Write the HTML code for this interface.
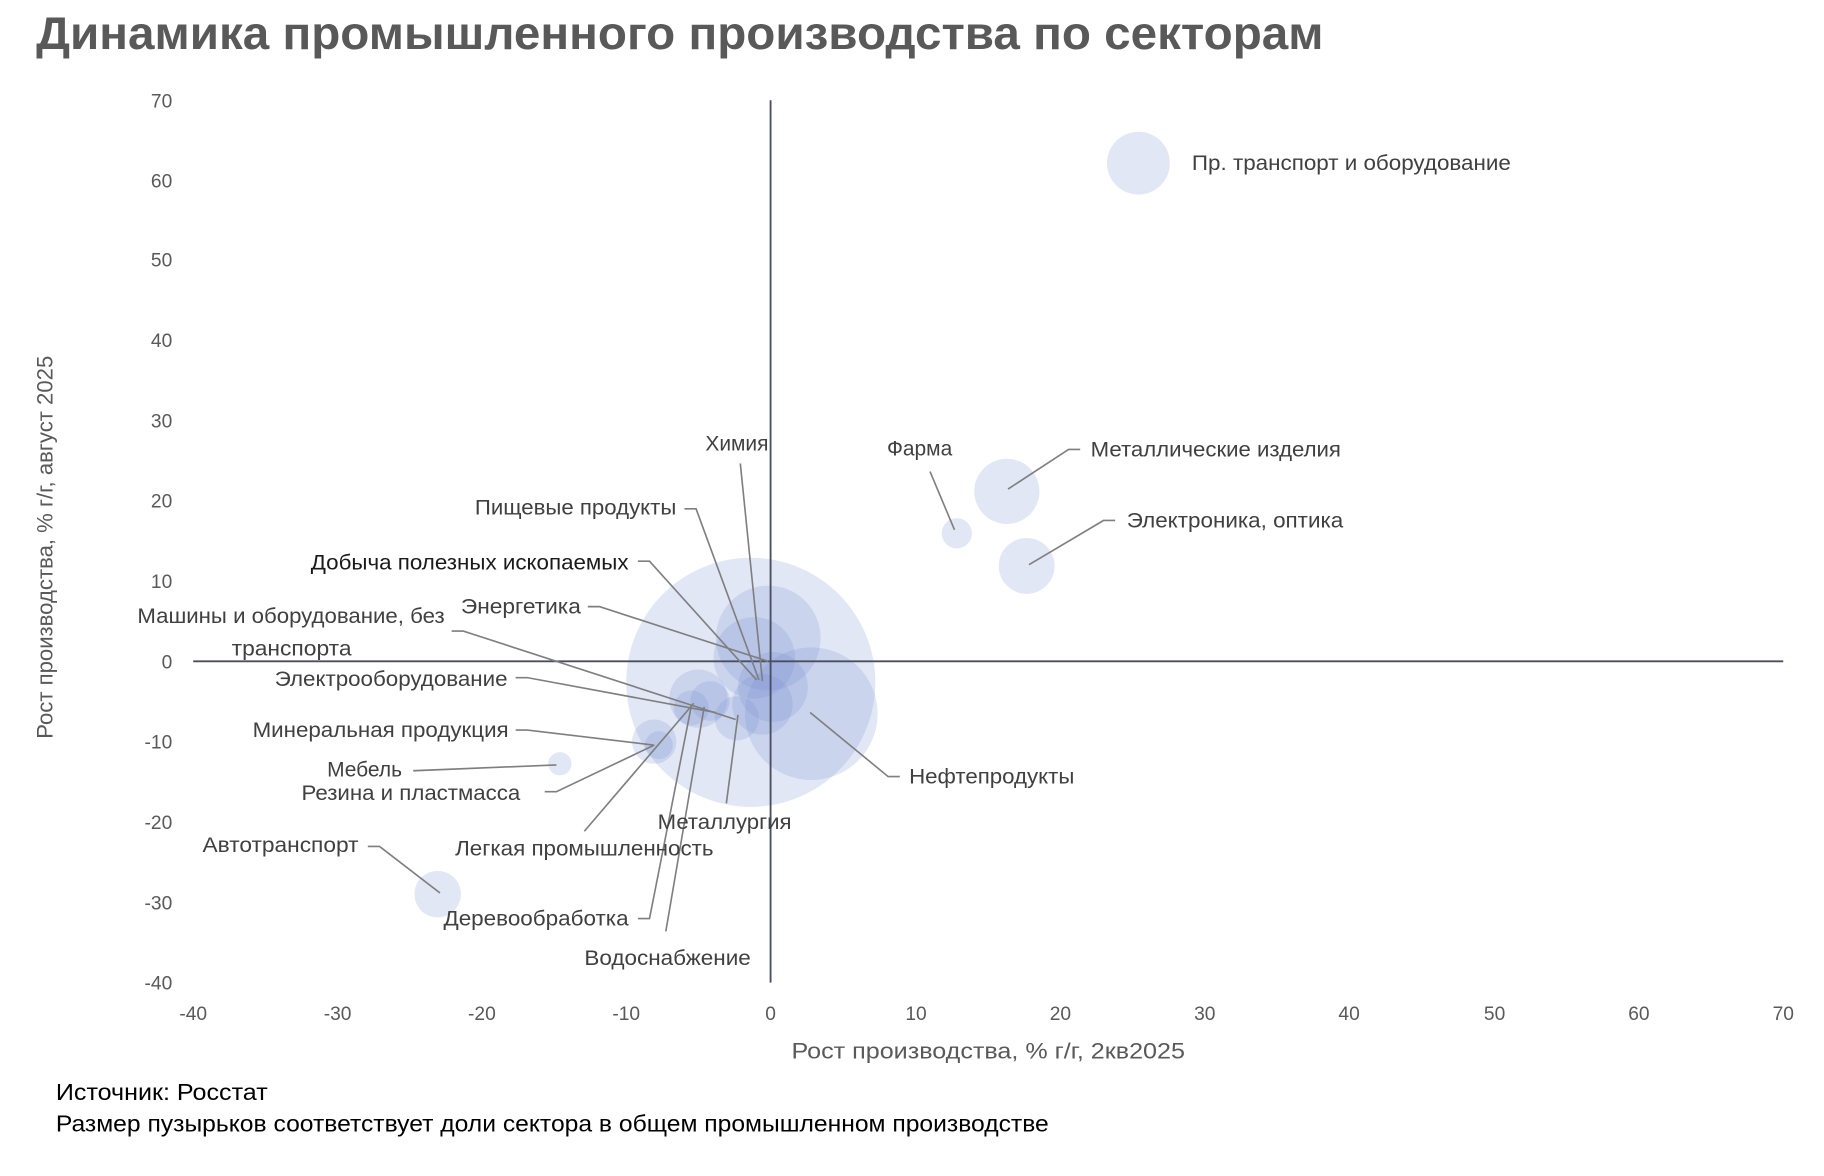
<!DOCTYPE html>
<html><head><meta charset="utf-8"><style>
html,body{margin:0;padding:0;background:#fff;}
svg{display:block;}
text{font-family:"Liberation Sans",sans-serif;}
</style></head><body>
<svg width="1824" height="1176" viewBox="0 0 1567 1010" xmlns="http://www.w3.org/2000/svg">
<text x="31" y="42" font-size="40" font-weight="bold" fill="#595959" textLength="1106" lengthAdjust="spacingAndGlyphs">Динамика промышленного производства по секторам</text>
<g fill="#7890d2" fill-opacity="0.21">
<circle cx="978" cy="140" r="27"/>
<circle cx="865" cy="422" r="28"/>
<circle cx="822" cy="458" r="13"/>
<circle cx="882" cy="486" r="24"/>
<circle cx="645" cy="586" r="107"/>
<circle cx="660" cy="548" r="45"/>
<circle cx="697" cy="613" r="57"/>
<circle cx="648" cy="565" r="35"/>
<circle cx="664" cy="590" r="30"/>
<circle cx="655" cy="605" r="26"/>
<circle cx="600" cy="600" r="25"/>
<circle cx="610" cy="602" r="17"/>
<circle cx="633" cy="617" r="19"/>
<circle cx="594" cy="608" r="15"/>
<circle cx="562" cy="637" r="19"/>
<circle cx="566" cy="640" r="12"/>
<circle cx="481" cy="656" r="10"/>
<circle cx="376" cy="768" r="20"/>
</g>
<g stroke="#4a4f60" stroke-width="1.6">
<line x1="662" y1="86" x2="662" y2="844"/>
<line x1="166" y1="568" x2="1532" y2="568"/>
</g>
<g font-size="16.5" fill="#595959" text-anchor="end">
<text x="148" y="92">70</text><text x="148" y="161">60</text><text x="148" y="229">50</text><text x="148" y="298">40</text><text x="148" y="367">30</text><text x="148" y="436">20</text><text x="148" y="505">10</text><text x="148" y="574">0</text><text x="148" y="643">-10</text><text x="148" y="712">-20</text><text x="148" y="781">-30</text><text x="148" y="850">-40</text>
</g>
<g font-size="16.5" fill="#595959" text-anchor="middle">
<text x="166" y="876">-40</text><text x="290" y="876">-30</text><text x="414" y="876">-20</text><text x="538" y="876">-10</text><text x="662" y="876">0</text><text x="787" y="876">10</text><text x="911" y="876">20</text><text x="1035" y="876">30</text><text x="1159" y="876">40</text><text x="1284" y="876">50</text><text x="1408" y="876">60</text><text x="1532" y="876">70</text>
</g>
<text x="680" y="909" font-size="19" fill="#595959" textLength="338" lengthAdjust="spacingAndGlyphs">Рост производства, % г/г,  2кв2025</text>
<text transform="translate(45,470) rotate(-90)" font-size="19" fill="#595959" text-anchor="middle">Рост производства, % г/г, август 2025</text>
<g stroke="#7f7f7f" stroke-width="1.4" fill="none">
<polyline points="928,386 918,386 866,420"/>
<polyline points="799,405 820,455"/>
<polyline points="958,447 948,447 884,485"/>
<polyline points="636,398 655,585"/>
<polyline points="588,437 598,437 652,584"/>
<polyline points="548,482 558,482 650,584"/>
<polyline points="505,521 515,521 660,568"/>
<polyline points="388,542 398,542 632,618"/>
<polyline points="443,582 453,582 615,612"/>
<polyline points="443,627 453,627 562,640"/>
<polyline points="355,662 478,657"/>
<polyline points="468,680 478,680 562,640"/>
<polyline points="502,714 596,604"/>
<polyline points="316,727 326,727 378,767"/>
<polyline points="548,789 558,789 594,606"/>
<polyline points="572,800 605,607"/>
<polyline points="624,690 634,614"/>
<polyline points="773,667 763,667 696,612"/>
</g>
<g font-size="18" fill="#404040">
<text x="1024" y="146" textLength="274" lengthAdjust="spacingAndGlyphs">Пр. транспорт и оборудование</text>
<text x="937" y="392" textLength="215" lengthAdjust="spacingAndGlyphs">Металлические изделия</text>
<text x="762" y="391">Фарма</text>
<text x="968" y="453" textLength="186" lengthAdjust="spacingAndGlyphs">Электроника, оптика</text>
<text x="606" y="387">Химия</text>
<text x="408" y="442" textLength="173" lengthAdjust="spacingAndGlyphs">Пищевые продукты</text>
<text x="267" y="489" fill="#1a1a1a" textLength="273" lengthAdjust="spacingAndGlyphs">Добыча полезных ископаемых</text>
<text x="396" y="527" textLength="103" lengthAdjust="spacingAndGlyphs">Энергетика</text>
<text x="118" y="535" textLength="264" lengthAdjust="spacingAndGlyphs">Машины и оборудование, без</text>
<text x="199" y="563" textLength="103" lengthAdjust="spacingAndGlyphs">транспорта</text>
<text x="236" y="589" textLength="200" lengthAdjust="spacingAndGlyphs">Электрооборудование</text>
<text x="217" y="633" textLength="220" lengthAdjust="spacingAndGlyphs">Минеральная продукция</text>
<text x="281" y="667">Мебель</text>
<text x="259" y="687" textLength="188" lengthAdjust="spacingAndGlyphs">Резина и пластмасса</text>
<text x="174" y="732" textLength="134" lengthAdjust="spacingAndGlyphs">Автотранспорт</text>
<text x="565" y="712" textLength="115" lengthAdjust="spacingAndGlyphs">Металлургия</text>
<text x="391" y="735" textLength="222" lengthAdjust="spacingAndGlyphs">Легкая промышленность</text>
<text x="381" y="795" textLength="159" lengthAdjust="spacingAndGlyphs">Деревообработка</text>
<text x="502" y="829" textLength="143" lengthAdjust="spacingAndGlyphs">Водоснабжение</text>
<text x="781" y="673" textLength="142" lengthAdjust="spacingAndGlyphs">Нефтепродукты</text>
</g>
<g font-size="20" fill="#000">
<text x="48" y="945" textLength="182" lengthAdjust="spacingAndGlyphs">Источник: Росстат</text>
<text x="48" y="972" textLength="853" lengthAdjust="spacingAndGlyphs">Размер пузырьков соответствует доли сектора в общем промышленном производстве</text>
</g>
</svg>
</body></html>
